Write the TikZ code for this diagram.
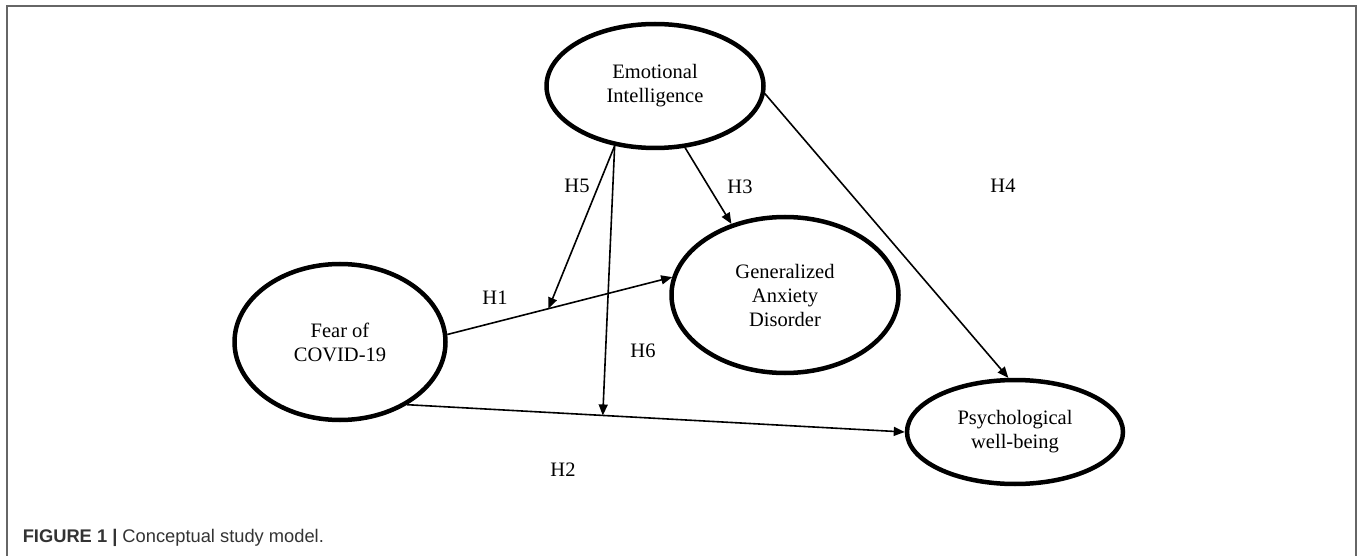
\documentclass[tikz,border=0pt]{standalone}
\usepackage{fontspec}
\setmainfont{Liberation Serif}
\newfontfamily\capfont{Liberation Sans}
\usetikzlibrary{shapes.geometric,arrows.meta,calc}

\begin{document}
\begin{tikzpicture}[x=1pt,y=-1pt,line width=1.6pt,
    >={Triangle[length=11pt,width=9pt]},
    latent/.style={ellipse,draw,line width=4.5pt,align=center,inner sep=0pt,
      font=\fontsize{20.5}{24}\selectfont},
    hyp/.style={font=\fontsize{20.5}{24}\selectfont}]
  \useasboundingbox (0,0) rectangle (1358,556);
  \draw[line width=2pt,black!60] (7,556) -- (7,6) -- (1356,6) -- (1356,556);

  \node[latent,minimum width=217pt,minimum height=124pt] (ei) at (655,86) {Emotional\\Intelligence};
  \node[latent,minimum width=211pt,minimum height=156pt] (fear) at (340,342) {Fear of\\COVID-19};
  \node[latent,minimum width=227pt,minimum height=156pt] (gad) at (785,295) {Generalized\\Anxiety\\Disorder};
  \node[latent,minimum width=216pt,minimum height=104pt] (psych) at (1015,432) {Psychological\\well-being};

  \draw[->] (fear.4) -- (gad.171);
  \draw[->] (fear.-43) -- (psych.west);
  \draw[->] (ei.-64) -- (gad.127);
  \draw[->] (ei.-4) -- (psych.97);
  \coordinate (m1) at ($(fear.4)!0.45!(gad.171)$);
  \coordinate (m2) at ($(fear.-43)!0.393!(psych.west)$);
  \draw[->] (ei.-124) -- (m1);
  \draw[->] (ei.-124) -- (m2);

  \node[hyp] (h1) at (495,298) {H1};
  \node[hyp] (h2) at (563,470) {H2};
  \node[hyp] (h3) at (740,187) {H3};
  \node[hyp] (h4) at (1003,186) {H4};
  \node[hyp] (h5) at (577,186) {H5};
  \node[hyp] (h6) at (643,351) {H6};

  \node[anchor=base west,inner sep=0pt,text=black!80,
    font=\capfont\fontsize{18.3}{22}\selectfont] (cap) at (22,542)
    {\textbf{FIGURE 1 |} Conceptual study model.};
\end{tikzpicture}
\end{document}
